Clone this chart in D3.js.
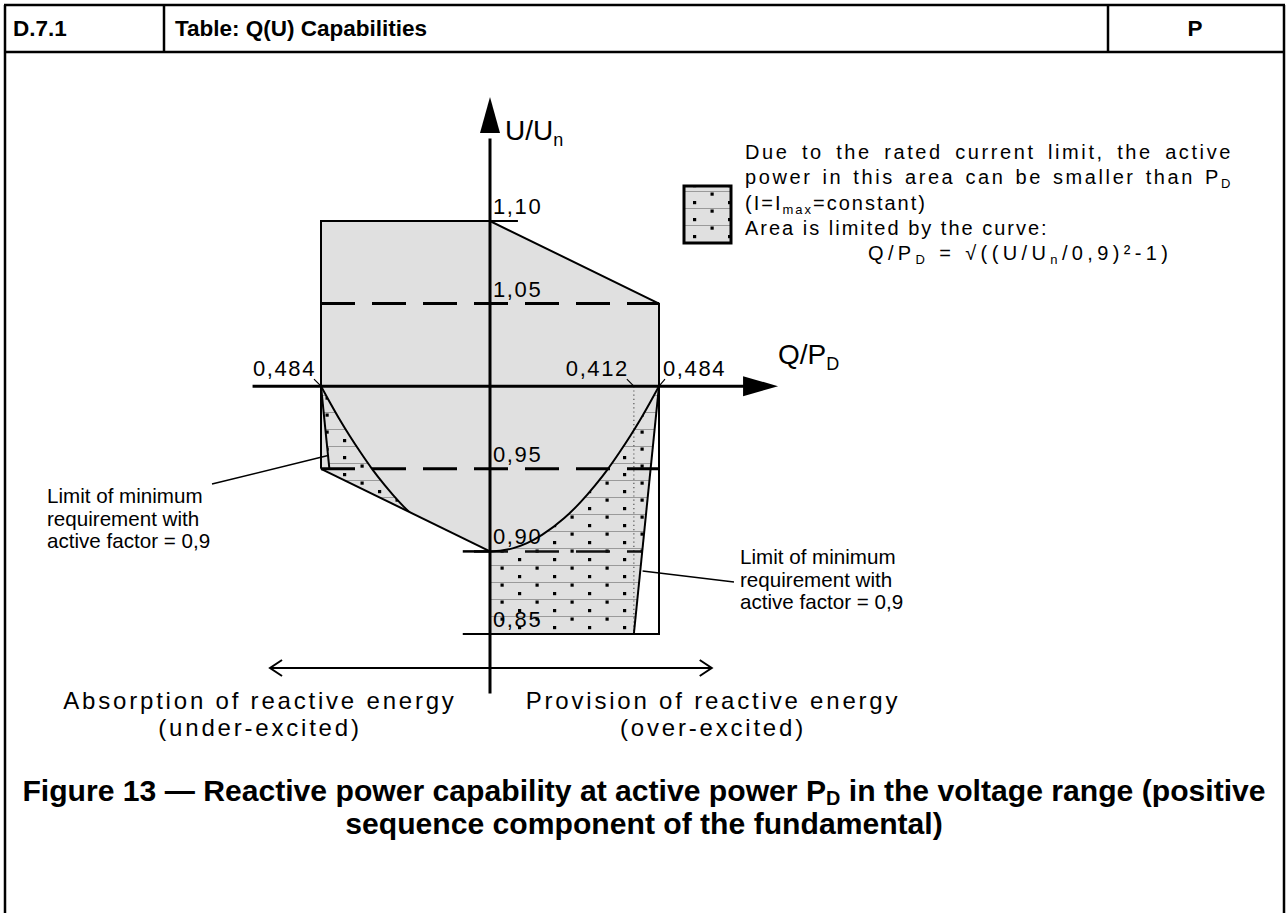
<!DOCTYPE html>
<html lang="en">
<head>
<meta charset="UTF-8">
<title>Q(U) Capabilities</title>
<script src="https://d3js.org/d3.v7.min.js"></script>
<style>
  body { margin: 0; background: #fff; }
  svg { display: block; font-family: "Liberation Sans", Arial, sans-serif; }
</style>
</head>
<body>
<div id="chart"></div>
<script>
// --- data (Q/PD, U/Un) ---
const uTicks = [1.10, 1.05, 0.95, 0.90, 0.85];
const uTickLabels = ["1,10", "1,05", "0,95", "0,90", "0,85"];
const qMarks = [-0.484, 0.412, 0.484];
const qMarkLabels = ["0,484", "0,412", "0,484"];
const dashedU = [1.05, 0.95];

// limit curve Q/PD = sqrt((U/Un/0,9)^2-1), right half
const curveU = [0.900, 0.902, 0.905, 0.91, 0.92, 0.93, 0.94, 0.95, 0.96, 0.97, 0.98, 0.99, 1.00];
const curveQ = [0.000, 0.067, 0.106, 0.149, 0.212, 0.260, 0.301, 0.338, 0.371, 0.402, 0.431, 0.458, 0.484];

// outline of the capability area [Q, U]
const outlineTop = [[-0.484, 0.95], [-0.484, 1.10], [0, 1.10], [0.484, 1.05], [0.484, 0.85], [-0.078, 0.85]];
const diagonal = [[-0.484, 0.95], [0, 0.90]];
const limitLeft = [[-0.484, 1.00], [-0.460, 0.95]];
const limitRight = [[0.484, 1.00], [0.412, 0.85]];
const grayArea = [[-0.484, 1.10], [0, 1.10], [0.484, 1.05], [0.484, 1.00], [0.412, 0.85], [0, 0.85], [0, 0.90], [-0.484, 0.95]];

const legendLines = ["Due to the rated current limit, the active", "power in this area can be smaller than P|D", "(I=I|max|=constant)", "Area is limited by the curve:", "Q/P|D| = √((U/U|n|/0,9)²-1)"];
const limitText = ["Limit of minimum", "requirement with", "active factor = 0,9"];

const W = 1288, H = 913;
const svg = d3.select("#chart").append("svg").attr("width", W).attr("height", H);

// scales
const x = d3.scaleLinear().domain([-0.484, 0.484]).range([321, 659]);
const y = d3.scaleLinear().domain([0.85, 1.10]).range([634, 221]);
const line = d3.line().x(d => x(d[0])).y(d => y(d[1]));
const smooth = d3.line().x(d => x(d[0])).y(d => y(d[1])).curve(d3.curveMonotoneX);

const rightCurve = curveQ.map((q, i) => [q, curveU[i]]);
const leftCurve = curveQ.map((q, i) => [-q, curveU[i]]);
const fullCurve = leftCurve.slice(1).reverse().concat(rightCurve);

// --- table frame ---
const frame = svg.append("g").attr("stroke", "#000").attr("stroke-width", 2.5);
frame.append("line").attr("x1", 4).attr("x2", 1285).attr("y1", 5).attr("y2", 5);
frame.append("line").attr("x1", 4).attr("x2", 1285).attr("y1", 52).attr("y2", 52);
frame.append("line").attr("x1", 5).attr("x2", 5).attr("y1", 5).attr("y2", H);
frame.append("line").attr("x1", 1284).attr("x2", 1284).attr("y1", 5).attr("y2", H);
frame.append("line").attr("x1", 164).attr("x2", 164).attr("y1", 5).attr("y2", 52);
frame.append("line").attr("x1", 1108).attr("x2", 1108).attr("y1", 5).attr("y2", 52);

const head = svg.append("g").attr("font-weight", "bold").attr("font-size", 22.5);
head.append("text").attr("x", 13).attr("y", 36).text("D.7.1");
head.append("text").attr("x", 175).attr("y", 36).text("Table: Q(U) Capabilities");
head.append("text").attr("x", 1195).attr("y", 36).attr("text-anchor", "middle").text("P");

// --- hatch pattern ---
const defs = svg.append("defs");
const pat = defs.append("pattern").attr("id", "hatch").attr("patternUnits", "userSpaceOnUse")
  .attr("x", 0).attr("y", 4).attr("width", 35).attr("height", 17);
pat.append("rect").attr("width", 35).attr("height", 17).attr("fill", "#e0e0e0");
pat.append("rect").attr("y", 0).attr("width", 35).attr("height", 1).attr("fill", "#9a9a9a");
pat.append("rect").attr("x", 10.5).attr("y", 1.5).attr("width", 3.2).attr("height", 3.2).attr("fill", "#000");
pat.append("rect").attr("x", 28).attr("y", 10).attr("width", 3.2).attr("height", 3.2).attr("fill", "#000");

defs.append("clipPath").attr("id", "clipArea").append("path").attr("d", line(grayArea) + "Z");
defs.append("clipPath").attr("id", "clipRight").append("path")
  .attr("d", smooth(rightCurve) + "L" + x(0.412) + "," + y(0.85) + "L" + x(0) + "," + y(0.85) + "Z");
defs.append("clipPath").attr("id", "clipLeft").append("path")
  .attr("d", smooth(leftCurve) + "L" + x(-0.4114) + "," + y(0.85) + "L" + x(0) + "," + y(0.85) + "Z");

// --- areas ---
svg.append("path").attr("d", line(grayArea) + "Z").attr("fill", "#e0e0e0");
svg.append("g").attr("clip-path", "url(#clipRight)")
  .append("rect").attr("x", x(0) - 2).attr("y", y(1.0)).attr("width", x(0.484) - x(0) + 4).attr("height", y(0.85) - y(1.0) + 2)
  .attr("fill", "url(#hatch)");
svg.append("g").attr("clip-path", "url(#clipArea)").append("g").attr("clip-path", "url(#clipLeft)")
  .append("rect").attr("x", x(-0.484)).attr("y", y(1.0)).attr("width", x(0) - x(-0.484)).attr("height", y(0.85) - y(1.0))
  .attr("fill", "url(#hatch)");

// dotted 0,412 line
svg.append("path").attr("d", line([[0.412, 1.0], [0.412, 0.85]]))
  .attr("stroke", "#555").attr("stroke-width", 1.2).attr("stroke-dasharray", "1.2,3").attr("fill", "none");

// dashed voltage levels
const dash = "34,17";
dashedU.forEach(u => {
  svg.append("path").attr("d", line([[-0.484, u], [0.484, u]]))
    .attr("stroke", "#000").attr("stroke-width", 3).attr("stroke-dasharray", dash).attr("fill", "none");
});
const startX = x(-0.078);
svg.append("path").attr("d", line([[-0.078, 0.90], [0.436, 0.90]]))
  .attr("stroke", "#111").attr("stroke-width", 2.5).attr("stroke-dasharray", dash)
  .attr("stroke-dashoffset", (startX - x(-0.484)) % 51).attr("fill", "none");
svg.append("path").attr("d", line([[-0.078, 0.90], [0, 0.90]])).attr("stroke", "#000").attr("stroke-width", 2.5);
svg.append("path").attr("d", line([[0, 1.10], [0.08, 1.10]])).attr("stroke", "#000").attr("stroke-width", 2);

// limit curve
svg.append("g").attr("clip-path", "url(#clipArea)").append("path").attr("d", smooth(fullCurve))
  .attr("stroke", "#000").attr("stroke-width", 2).attr("fill", "none");

// outline
const strokeOpts = p => p.attr("stroke", "#000").attr("stroke-width", 2).attr("fill", "none").attr("stroke-linejoin", "miter");
strokeOpts(svg.append("path").attr("d", line(outlineTop)));
strokeOpts(svg.append("path").attr("d", line(diagonal)));
strokeOpts(svg.append("path").attr("d", line(limitLeft)));
strokeOpts(svg.append("path").attr("d", line(limitRight)));

// --- axes ---
const ax = svg.append("g").attr("stroke", "#000").attr("stroke-width", 3);
ax.append("line").attr("x1", x(0)).attr("x2", x(0)).attr("y1", y(0.814)).attr("y2", y(1.15));
ax.append("line").attr("x1", x(-0.68)).attr("x2", x(0.74)).attr("y1", y(1.0)).attr("y2", y(1.0));
const tipY = y(1.175), tipX = x(0.825);
svg.append("path").attr("d", `M${x(0)},${tipY}L${x(0) - 10},${tipY + 36}L${x(0) + 10},${tipY + 36}Z`).attr("fill", "#000");
svg.append("path").attr("d", `M${tipX},${y(1.0)}L${tipX - 35},${y(1.0) - 10}L${tipX - 35},${y(1.0) + 10}Z`).attr("fill", "#000");

// axis titles
const t1 = svg.append("text").attr("x", x(0) + 15).attr("y", 140).attr("font-size", 28);
t1.append("tspan").text("U/U");
t1.append("tspan").attr("font-size", 18).attr("dy", 6).text("n");
const t2 = svg.append("text").attr("x", tipX).attr("y", 364).attr("font-size", 28);
t2.append("tspan").text("Q/P");
t2.append("tspan").attr("font-size", 18).attr("dy", 6).text("D");

// tick labels
const lab = svg.append("g").attr("font-size", 22).attr("letter-spacing", 1.6);
uTicks.forEach((u, i) => {
  lab.append("text").attr("x", x(0) + 3).attr("y", y(u) - 7).text(uTickLabels[i]);
});
qMarks.forEach((q, i) => {
  const px = x(q), py = y(1.0);
  const right = i === 2;
  lab.append("text").attr("x", right ? px + 4 : px - 5).attr("y", py - 10)
    .attr("text-anchor", right ? "start" : "end").text(qMarkLabels[i]);
  svg.append("line").attr("x1", right ? px + 6 : px - 7).attr("y1", py - 7).attr("x2", px).attr("y2", py)
    .attr("stroke", "#000").attr("stroke-width", 1.2);
});

// legend
svg.append("rect").attr("x", 684).attr("y", 186).attr("width", 47).attr("height", 57)
  .attr("fill", "url(#hatch)").attr("stroke", "#000").attr("stroke-width", 3);
const leg = svg.append("g").attr("font-size", 20).attr("letter-spacing", 2);
const legX = [745, 745, 745, 745, 868];
legendLines.forEach((s, i) => {
  const t = leg.append("text").attr("x", legX[i]).attr("y", 159 + i * 25.3);
  s.split("|").forEach((part, j) => {
    const sp = t.append("tspan").text(part);
    if (j % 2 === 1) sp.attr("font-size", 13).attr("dy", 4);
    else if (j > 0) sp.attr("dy", -4);
  });
  // first two lines are justified to the same right edge
  if (i < 2) {
    t.attr("letter-spacing", 2.6);
    const gaps = s.split(" ").length - 1;
    t.attr("word-spacing", (488 - t.node().getComputedTextLength()) / gaps);
  }
  if (i === 4) {
    const n = s.replace(/\|/g, "").length - 1;
    t.attr("letter-spacing", 2 + (302 - t.node().getComputedTextLength()) / n);
  }
});

// limit annotations
const ann = svg.append("g").attr("font-size", 20.6);
limitText.forEach((s, i) => {
  ann.append("text").attr("x", 47).attr("y", 503 + i * 22.5).text(s);
  ann.append("text").attr("x", 740).attr("y", 564 + i * 22.5).text(s);
});
svg.append("line").attr("x1", 212).attr("y1", 484).attr("x2", x(-0.464)).attr("y2", y(0.958)).attr("stroke", "#000").attr("stroke-width", 1.5);
svg.append("line").attr("x1", x(0.437)).attr("y1", 571).attr("x2", 734).attr("y2", 582).attr("stroke", "#000").attr("stroke-width", 1.5);

// direction arrow
const arrY = 668, aL = x(-0.63), aR = x(0.635);
const arr = svg.append("g").attr("stroke", "#000").attr("stroke-width", 2).attr("fill", "none");
arr.append("line").attr("x1", aL).attr("x2", aR).attr("y1", arrY).attr("y2", arrY);
arr.append("path").attr("d", `M${aL + 12},${arrY - 8}L${aL},${arrY}L${aL + 12},${arrY + 8}`);
arr.append("path").attr("d", `M${aR - 12},${arrY - 8}L${aR},${arrY}L${aR - 12},${arrY + 8}`);

const bt = svg.append("g").attr("font-size", 24).attr("letter-spacing", 2.8).attr("text-anchor", "middle");
bt.append("text").attr("x", 260).attr("y", 709).text("Absorption of reactive energy");
bt.append("text").attr("x", 260).attr("y", 736).text("(under-excited)");
bt.append("text").attr("x", 713).attr("y", 709).text("Provision of reactive energy");
bt.append("text").attr("x", 713).attr("y", 736).text("(over-excited)");

// caption
const cap = svg.append("g").attr("font-weight", "bold").attr("text-anchor", "middle");
const c1 = cap.append("text").attr("x", 644).attr("y", 801).attr("font-size", 24);
c1.append("tspan").text("Figure 13 — Reactive power capability at active power P");
c1.append("tspan").attr("font-size", 16).attr("dy", 4).text("D");
c1.append("tspan").attr("dy", -4).text(" in the voltage range (positive");
const fs = 24 * 1244 / c1.node().getComputedTextLength();
c1.attr("font-size", fs);
c1.selectAll("tspan").filter((d, i) => i === 1).attr("font-size", fs * 0.66);
cap.append("text").attr("x", 644).attr("y", 834).attr("font-size", fs).text("sequence component of the fundamental)");
</script>
</body>
</html>
